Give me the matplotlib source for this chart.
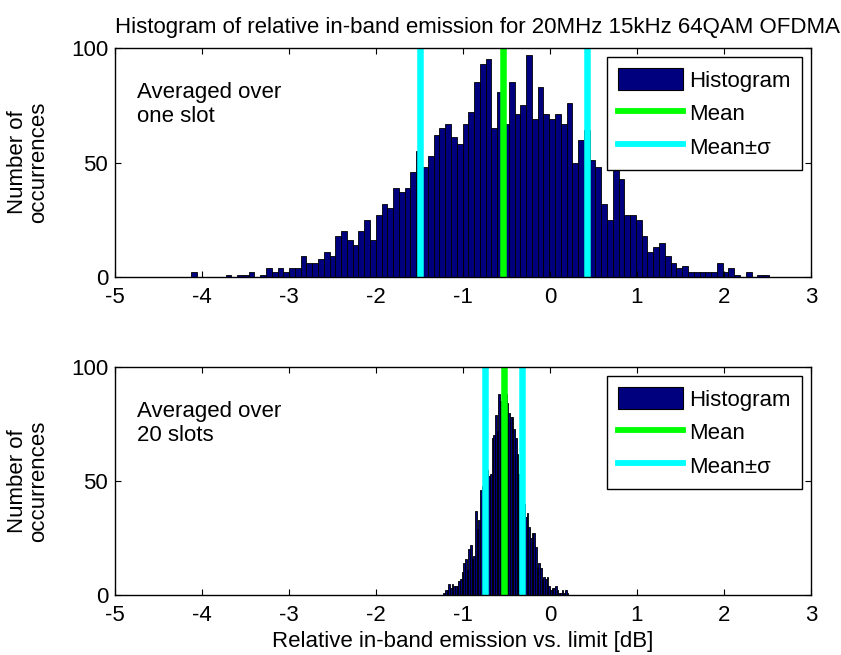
import numpy as np
import matplotlib
matplotlib.use('Agg')
import matplotlib.pyplot as plt
from matplotlib.patches import Patch
from matplotlib.lines import Line2D

plt.rcParams['font.family'] = ['Liberation Sans', 'DejaVu Sans']
plt.rcParams['font.size'] = 16
plt.rcParams['axes.unicode_minus'] = False

# histogram, averaged over one slot (100 bins)
top_lo, top_hi = -4.128, 2.516
top_counts = [2, 0, 0, 0, 0, 0, 1, 0, 1, 1, 2, 0, 1, 4, 2, 4, 2, 4, 4,
              9, 6, 6, 8, 11, 9, 18, 20, 16, 14, 20, 25, 16, 27, 32, 30, 39, 37, 39, 46,
              55, 48, 53, 62, 65, 67, 61, 58, 67, 72, 85, 93, 95, 65, 81, 67, 85, 71, 75,
              97, 69, 83, 71, 69, 71, 67, 76, 50, 60, 64, 51, 48, 32, 25,
              48, 43, 27, 27, 25, 18, 11, 13, 15, 9, 6, 4, 5, 2, 2, 2, 2, 2, 6, 2, 4,
              1, 0, 2, 0, 1, 1]
top_mean = -0.537
top_sigma = 0.958

# histogram, averaged over 20 slots
bot_lo, bot_hi = -1.226, 0.211
bot_counts = [1, 2, 2, 5, 3, 5, 4, 4, 4, 6, 7, 10, 14, 16, 11, 20, 22, 16, 17, 37,
              29, 33, 46, 48, 50, 52, 55, 52, 53, 69, 70, 79, 72, 88,
              85, 90, 92, 88, 84, 80, 78, 78, 73, 69, 62, 53, 48, 45, 40,
              34, 36, 30, 25, 27, 27, 21, 12, 14, 12, 7, 8, 7, 8, 4, 2, 3, 3, 4, 2,
              1, 1, 2, 1, 2, 1]
bot_mean = -0.532
bot_sigma = 0.212

xticks = [-5, -4, -3, -2, -1, 0, 1, 2, 3]
yticks = [0, 50, 100]
title = 'Histogram of relative in-band emission for 20MHz 15kHz 64QAM OFDMA'
xlabel = 'Relative in-band emission vs. limit [dB]'
ylabel = 'Number of\noccurrences'
notes = ['Averaged over\none slot', 'Averaged over\n20 slots']

bar_col = '#00007F'
mean_col = '#00FF00'
sig_col = '#00FFFF'

fig = plt.figure(figsize=(8.41, 6.55), dpi=100)
ax1 = fig.add_axes([0.1367, 0.5771, 0.8276, 0.3496])
ax2 = fig.add_axes([0.1367, 0.0916, 0.8276, 0.3481])


def draw(ax, counts, lo, hi, mean, sigma, note):
    edges = np.linspace(lo, hi, len(counts) + 1)
    centers = (edges[:-1] + edges[1:]) / 2
    w = edges[1] - edges[0]
    ax.bar(centers, counts, width=w, color=bar_col, edgecolor='black', linewidth=0.6)
    ax.axvline(mean, color=mean_col, lw=4.7)
    ax.axvline(mean - sigma, color=sig_col, lw=4.7)
    ax.axvline(mean + sigma, color=sig_col, lw=4.7)
    ax.set_xlim(-5, 3)
    ax.set_ylim(0, 100)
    ax.set_xticks(xticks)
    ax.set_yticks(yticks)
    ax.tick_params(direction='in', top=True, right=True, length=4, width=0.8)
    ax.tick_params(axis='x', pad=7)
    ax.tick_params(axis='y', pad=5)
    for s in ax.spines.values():
        s.set_linewidth(1.0)
    ax.set_ylabel(ylabel, linespacing=1.0)
    ax.yaxis.set_label_coords(-0.095, 0.5)
    ax.text(-4.75, 85, note, va='top', ha='left', linespacing=1.15)
    handles = [Patch(facecolor=bar_col, edgecolor='black', linewidth=0.8),
               Line2D([], [], color=mean_col, lw=4.2),
               Line2D([], [], color=sig_col, lw=4.2)]
    leg = ax.legend(handles, ['Histogram', 'Mean', 'Mean\u00b1\u03c3'], loc='upper right',
                    fancybox=False, framealpha=1, edgecolor='black',
                    handlelength=2.9, handleheight=1.15, handletextpad=0.3,
                    labelspacing=0.45, borderpad=0.5, borderaxespad=0.4)
    leg.get_frame().set_linewidth(1.0)


draw(ax1, top_counts, top_lo, top_hi, top_mean, top_sigma, notes[0])
draw(ax2, bot_counts, bot_lo, bot_hi, bot_mean, bot_sigma, notes[1])

fig.text(0.568, 0.958, title, ha='center', va='center')
ax2.set_xlabel(xlabel, labelpad=4)

fig.savefig('out.png', dpi=100)
